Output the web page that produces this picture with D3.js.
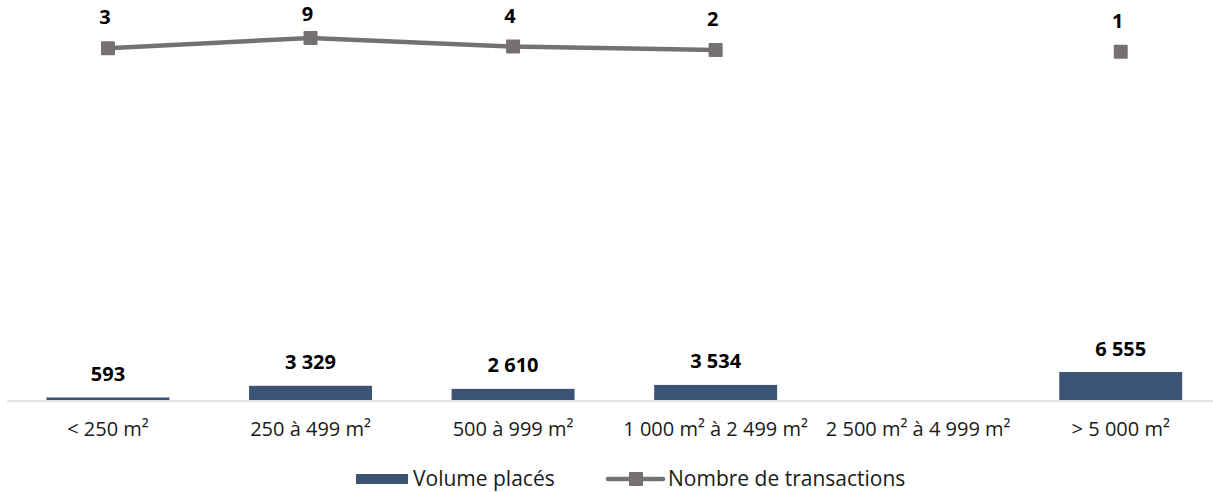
<!DOCTYPE html>
<html>
<head>
<meta charset="utf-8">
<script src="https://cdn.jsdelivr.net/npm/d3@7"></script>
<style>
  html, body { margin: 0; padding: 0; background: #ffffff; }
  svg { display: block; }
</style>
</head>
<body>
<svg id="chart" width="1213" height="492"></svg>
<script>
const categories = ["< 250 m²", "250 à 499 m²", "500 à 999 m²", "1 000 m² à 2 499 m²", "2 500 m² à 4 999 m²", "> 5 000 m²"];
const volumes = [593, 3329, 2610, 3534, null, 6555];
const transactions = [3, 9, 4, 2, null, 1];
const seriesNames = ["Volume placés", "Nombre de transactions"];

const barColor = "#3b5475";
const lineColor = "#767171";
const font = "'Open Sans', sans-serif";

const svg = d3.select("#chart");

const x = d3.scaleBand()
  .domain(categories)
  .range([6.7, 1222])
  .paddingInner(0.393)
  .paddingOuter(0.1965);

const y = d3.scaleLinear().domain([0, 90000]).range([400, 16]);
const y2 = d3.scaleLinear().domain([0, 10]).range([53.5, 36.25]);

// axis
const axis = d3.axisBottom(x).tickSize(0).tickPadding(21.3);
const gAxis = svg.append("g").attr("transform", "translate(0,400.5)").call(axis);
gAxis.select(".domain").attr("stroke", "#d9d9d9").attr("stroke-width", 1.3);
gAxis.selectAll("text")
  .attr("font-family", font)
  .attr("font-size", 20)
  .attr("fill", "#1a1a1a");

const barData = categories.map((c, i) => ({ c, v: volumes[i] })).filter(d => d.v != null);

svg.append("g").selectAll("rect").data(barData).join("rect")
  .attr("x", d => x(d.c))
  .attr("width", x.bandwidth())
  .attr("y", d => y(d.v))
  .attr("height", d => y(0) - y(d.v))
  .attr("fill", barColor);

const fmt = v => d3.format(",")(v).replace(/,/g, " ");

svg.append("g").selectAll("text").data(barData).join("text")
  .attr("x", d => x(d.c) + x.bandwidth() / 2)
  .attr("y", d => y(d.v) - 16.5)
  .attr("text-anchor", "middle")
  .attr("font-family", font)
  .attr("font-weight", "bold")
  .attr("font-size", 20)
  .attr("fill", "#000")
  .text(d => fmt(d.v));

const lineData = categories.map((c, i) => ({ c, v: transactions[i] }));
const line = d3.line()
  .defined(d => d.v != null)
  .x(d => x(d.c) + x.bandwidth() / 2)
  .y(d => y2(d.v));

svg.append("path")
  .datum(lineData)
  .attr("d", line)
  .attr("fill", "none")
  .attr("stroke", lineColor)
  .attr("stroke-width", 4.5)
  .attr("stroke-linejoin", "round");

const pts = lineData.filter(d => d.v != null);
const ms = 14;
svg.append("g").selectAll("rect").data(pts).join("rect")
  .attr("x", d => x(d.c) + x.bandwidth() / 2 - ms / 2)
  .attr("y", d => y2(d.v) - ms / 2)
  .attr("width", ms)
  .attr("height", ms)
  .attr("rx", 1)
  .attr("fill", lineColor);

svg.append("g").selectAll("text").data(pts).join("text")
  .attr("x", d => x(d.c) + x.bandwidth() / 2 - 3)
  .attr("y", d => Math.max(21, y2(d.v) - 24))
  .attr("text-anchor", "middle")
  .attr("font-family", font)
  .attr("font-weight", "bold")
  .attr("font-size", 20)
  .attr("fill", "#000")
  .text(d => d.v);

// legend
const lg = svg.append("g").attr("font-family", font).attr("font-size", 21).attr("fill", "#1a1a1a");
lg.append("rect").attr("x", 356).attr("y", 474).attr("width", 52).attr("height", 10).attr("fill", barColor);
lg.append("text").attr("x", 413).attr("y", 486).text(seriesNames[0]);
lg.append("line").attr("x1", 608).attr("x2", 663).attr("y1", 479).attr("y2", 479)
  .attr("stroke", lineColor).attr("stroke-width", 4.5).attr("stroke-linecap", "round");
lg.append("rect").attr("x", 636 - ms / 2).attr("y", 479 - ms / 2).attr("width", ms).attr("height", ms).attr("rx", 1).attr("fill", lineColor);
lg.append("text").attr("x", 668).attr("y", 486).text(seriesNames[1]);
</script>
</body>
</html>
